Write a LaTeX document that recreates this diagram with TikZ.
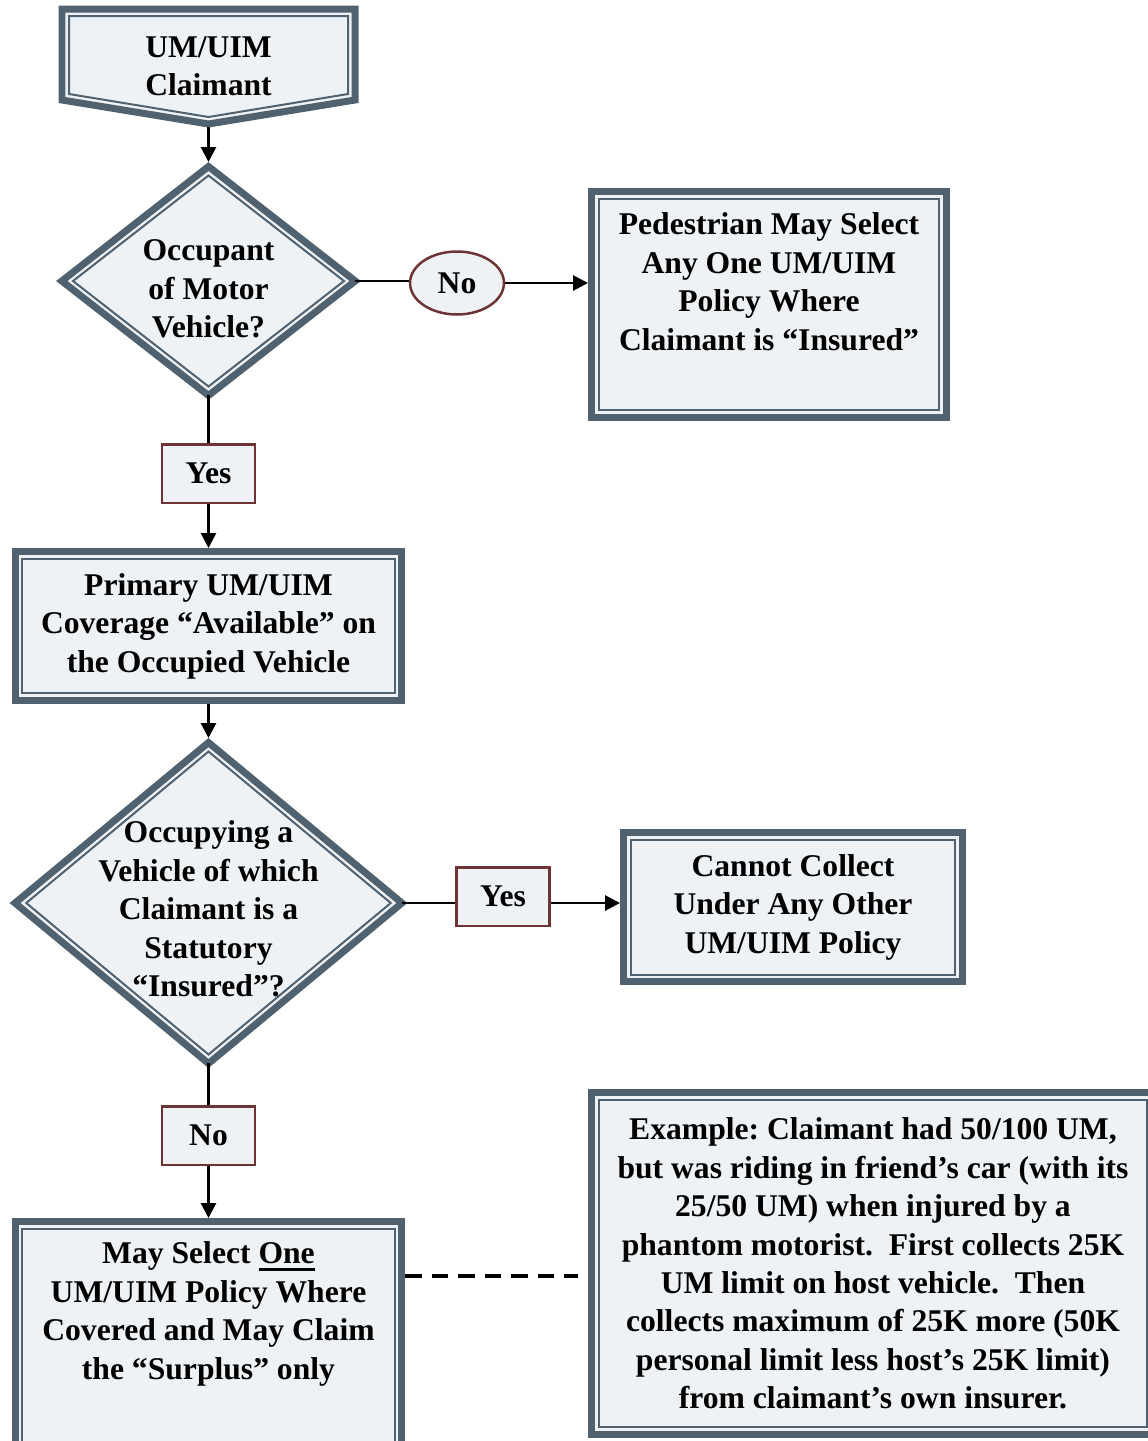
\documentclass[tikz,border=0pt]{standalone}
\usepackage{fontspec}
\setmainfont{Liberation Serif}
\usepackage{tikz}
\usetikzlibrary{positioning,arrows.meta,shapes.geometric,calc}
\definecolor{slate}{RGB}{80,97,112}
\definecolor{boxfill}{RGB}{238,242,244}
\definecolor{tagred}{RGB}{108,52,52}
\newcommand{\ulthick}[1]{\setbox0\hbox{#1}\rlap{\rule[-0.15cm]{\wd0}{0.065cm}}\box0}

\begin{document}
\begin{tikzpicture}[
  x=0.02cm, y=-0.02cm,
  font=\frenchspacing\bfseries\fontsize{18}{21.9}\selectfont,
  box/.style={rectangle, draw=slate, line width=0.14cm, fill=boxfill, align=center, inner sep=0pt},
  decision/.style={diamond, draw=slate, line width=0.14cm, fill=boxfill, inner sep=0pt, outer sep=0pt},
  inframe/.style={draw=slate, line width=0.04cm},
  qtext/.style={anchor=center, align=center},
  tag/.style={rectangle, draw=tagred, line width=0.05cm, fill=boxfill, minimum width=1.87cm,
              minimum height=1.17cm, inner sep=0pt},
  tagoval/.style={ellipse, draw=tagred, line width=0.05cm, fill=boxfill, minimum width=1.88cm,
                  minimum height=1.26cm, inner sep=0pt},
  link/.style={line width=0.055cm},
  arrow/.style={line width=0.055cm, -{Triangle[length=0.3cm,width=0.3cm]}},
  dashline/.style={line width=0.065cm, dash pattern=on 0.33cm off 0.2cm}
]
\useasboundingbox (0,0) rectangle (1148,1441);

% Start shape
\draw[draw=slate, line width=0.14cm, fill=boxfill, line join=miter]
  (62,9) -- (355,9) -- (355,100) -- (208.5,124) -- (62,100) -- cycle;
\draw[inframe] (69,16) -- (348,16) -- (348,94) -- (208.5,117) -- (69,94) -- cycle;
\node[inner sep=0pt, outer sep=0pt, minimum width=5.86cm, minimum height=2.44cm, align=center]
  (claimant) at (208.5,66) {UM/UIM\\Claimant};

% Nodes
\node[decision, minimum width=5.87cm, minimum height=4.58cm,
  label={[qtext, yshift=-0.16cm]center:{Occupant\\of Motor\\Vehicle?}}] (occ) at (208.5,281) {};
\node[tagoval] (no1) at (457,283) {No};
\node[box, minimum width=7.1cm, minimum height=4.52cm,
  label={[qtext, yshift=0.46cm]center:{Pedestrian May Select\\Any One UM/UIM\\Policy Where\\Claimant is “Insured”}}]
  (ped) at (769,304.5) {};
\node[tag] (yes1) at (208.5,473.5) {Yes};
\node[box, minimum width=7.74cm, minimum height=2.98cm] (avail) at (208.5,626)
  {Primary UM/UIM\\Coverage “Available” on\\the Occupied Vehicle};
\node[decision, minimum width=7.74cm, minimum height=6.42cm,
  label={[qtext, yshift=-0.12cm]center:{Occupying a\\Vehicle of which\\Claimant is a\\Statutory\\“Insured”?}}]
  (insd) at (208.5,903) {};
\node[tag] (yes2) at (503,896.5) {Yes};
\node[box, minimum width=6.78cm, minimum height=2.98cm] (cannot) at (793,907)
  {Cannot Collect\\Under Any Other\\UM/UIM Policy};
\node[tag] (no2) at (208.5,1135.5) {No};
\node[box, minimum width=7.74cm, minimum height=5.1cm,
  label={[qtext, yshift=0.7cm]center:{May Select \ulthick{One}\\UM/UIM Policy Where\\Covered and May Claim\\the “Surplus” only}}]
  (may) at (208.5,1349) {};
\node[box, minimum width=11.26cm, minimum height=6.84cm] (ex) at (873,1263.5)
  {Example: Claimant had 50/100 UM,\\but was riding in friend’s car (with its\\25/50 UM) when injured by a\\
   phantom motorist.\enspace First collects 25K\\UM limit on host vehicle.\enspace Then\\
   collects maximum of 25K more (50K\\personal limit less host’s 25K limit)\\from claimant’s own insurer.};

% Inner frames
\foreach \n in {ped,avail,cannot,may,ex}
  \draw[inframe] ([shift={(0.21cm,-0.21cm)}]\n.north west) rectangle ([shift={(-0.21cm,0.21cm)}]\n.south east);
\foreach \n in {occ,insd}
  \draw[inframe] ([yshift=-0.18cm]\n.north) -- ([xshift=-0.224cm]\n.east)
    -- ([yshift=0.18cm]\n.south) -- ([xshift=0.224cm]\n.west) -- cycle;

% Arrows
\draw[arrow, shorten >=0.09cm] (claimant.south) -- (occ.north);
\draw[link] (occ.east) -- (occ.east -| no1.west);
\draw[arrow] (no1.east) -- (no1.east -| ped.west);
\draw[link] (occ.south) -- (yes1.north);
\draw[arrow] (yes1.south) -- (avail.north);
\draw[arrow, shorten >=0.09cm] (avail.south) -- (insd.north);
\draw[link] (insd.east) -- (insd.east -| yes2.west);
\draw[arrow] (insd.east -| yes2.east) -- (insd.east -| cannot.west);
\draw[link] (insd.south) -- (no2.north);
\draw[arrow] (no2.south) -- (may.north);
\draw[dashline, shorten >=0.2cm] ([yshift=1.46cm]may.east) -- ([yshift=1.46cm]may.east -| ex.west);

\end{tikzpicture}
\end{document}
